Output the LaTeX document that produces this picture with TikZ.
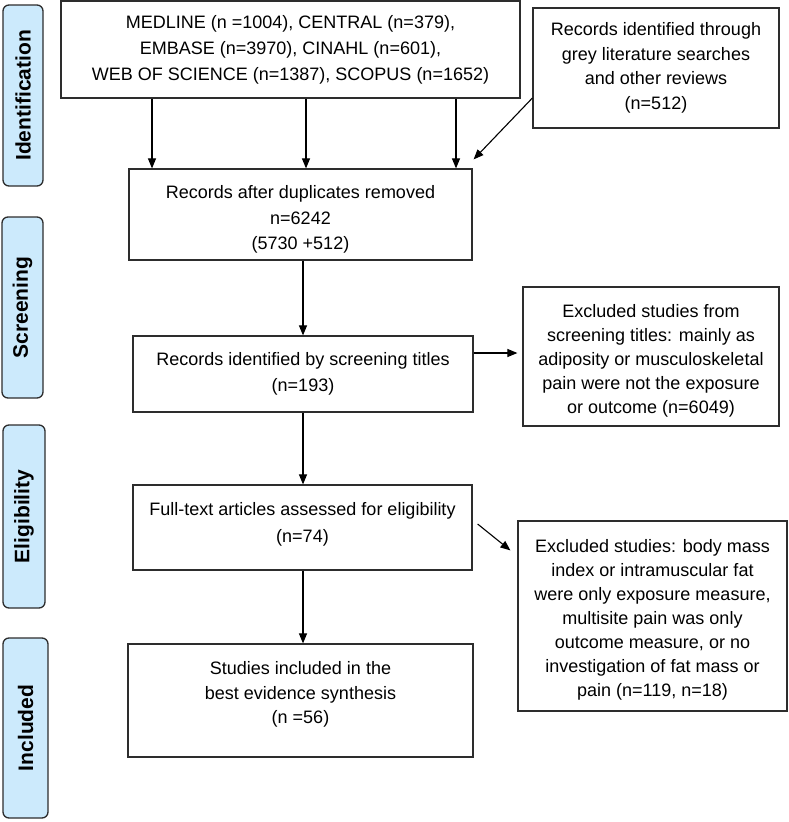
\documentclass[tikz,border=0pt]{standalone}
\usepackage{fontspec}
\setmainfont{Liberation Sans}
\usetikzlibrary{arrows.meta,calc}
\definecolor{phasefill}{RGB}{204,234,252}
\definecolor{edge}{RGB}{45,45,45}
\begin{document}
\begin{tikzpicture}[x=1pt,y=-1pt,
  box/.style={draw=edge,line width=1.2pt,fill=white,inner sep=0pt,align=center,
    font=\fontsize{18}{24.5}\selectfont},
  txt/.style={inner sep=0pt,align=center},
  phase/.style={draw=edge,line width=1.3pt,fill=phasefill,rounded corners=6pt,inner sep=0pt},
  phasetxt/.style={rotate=90,font=\fontsize{21}{24}\selectfont\bfseries},
  arr/.style={draw=black,line width=1.1pt,-{Triangle[length=10pt,width=8pt]}}]
\useasboundingbox (0,0) rectangle (788,822);
% phase labels
\node[phase,minimum width=40,minimum height=181] (pid) at (23,95.5) {};
\node[phasetxt] (tid) at (pid.center) {Identification};
\node[phase,minimum width=41,minimum height=181] (psc) at (22.5,307.5) {};
\node[phasetxt] (tsc) at (psc.center) {Screening};
\node[phase,minimum width=42,minimum height=183] (pel) at (24,516.5) {};
\node[phasetxt] (tel) at (pel.center) {Eligibility};
\node[phase,minimum width=45,minimum height=180] (pin) at (25.5,728) {};
\node[phasetxt] (tin) at (pin.center) {Included};
% boxes
\node[box,minimum width=459,minimum height=97,font=\fontsize{18}{26}\selectfont] (db) at (290.5,49.5)
  {MEDLINE (n =1004), CENTRAL (n=379),\\EMBASE (n=3970), CINAHL (n=601),\\WEB OF SCIENCE (n=1387), SCOPUS (n=1652)};
\node[box,minimum width=246,minimum height=120] (grey) at (656,68)
  {Records identified through\\grey literature searches\\and other reviews\\(n=512)};
\node[box,minimum width=343,minimum height=91] (dup) at (300.5,214.5) {};
\node[txt,font=\fontsize{18}{25.5}\selectfont] (dupt) at ([yshift=-5pt]dup.center)
  {Records after duplicates removed\\n=6242\\(5730 +512)};
\node[box,minimum width=340,minimum height=76,font=\fontsize{18}{26}\selectfont] (scr) at (303,374)
  {Records identified by screening titles\\(n=193)};
\node[box,minimum width=256,minimum height=139] (ex1) at (651,356.5) {};
\node[txt,font=\fontsize{18}{24}\selectfont] (ex1t) at ([yshift=-4pt]ex1.center)
  {Excluded studies from\\screening titles: mainly as\\adiposity or musculoskeletal\\pain were not the exposure\\or outcome (n=6049)};
\node[box,minimum width=339,minimum height=85] (full) at (302.5,527.5) {};
\node[txt,font=\fontsize{18}{27}\selectfont] (fullt) at ([yshift=3pt]full.center)
  {Full-text articles assessed for eligibility\\(n=74)};
\node[box,minimum width=269,minimum height=190] (ex2) at (652.5,616) {};
\node[txt,font=\fontsize{18}{24.1}\selectfont] (ex2t) at ([yshift=-4pt]ex2.center)
  {Excluded studies: body mass\\index or intramuscular fat\\were only exposure measure,\\multisite pain was only\\outcome measure, or no\\investigation of fat mass or\\pain (n=119, n=18)};
\node[box,minimum width=345,minimum height=113] (inc) at (300.5,700.5) {};
\node[txt,font=\fontsize{18}{24.5}\selectfont] (inct) at ([yshift=6pt]inc.center)
  {Studies included in the\\best evidence synthesis\\(n =56)};
% connectors
\coordinate (a1) at (152,0);
\coordinate (a2) at (306,0);
\coordinate (a3) at (456,0);
\coordinate (a4) at (303,0);
\draw[arr] (db.south -| a1) -- (dup.north -| a1);
\draw[arr] (db.south -| a2) -- (dup.north -| a2);
\draw[arr] (db.south -| a3) -- (dup.north -| a3);
\draw[arr] ([yshift=-30pt]grey.west) -- ([shift={(1pt,9pt)}]dup.north east);
\draw[arr] (dup.south -| a4) -- (scr.north -| a4);
\draw[arr] ([yshift=21pt]scr.east) -- ([shift={(-5pt,3.5pt)}]ex1.west);
\draw[arr] (scr.south -| a4) -- (full.north -| a4);
\draw[arr] ([shift={(5pt,3.5pt)}]full.east) -- ([shift={(-7pt,-30pt)}]ex2.north west);
\draw[arr] (full.south -| a4) -- (inc.north -| a4);
\end{tikzpicture}
\end{document}
